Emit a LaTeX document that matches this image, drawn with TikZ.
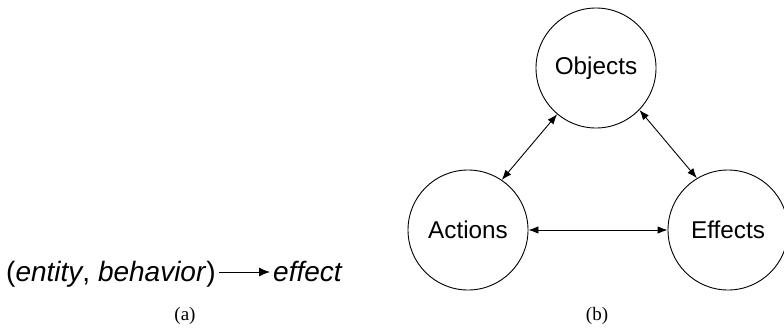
\documentclass[tikz,border=0pt]{standalone}
\usepackage{fontspec}
\setmainfont{Liberation Serif}
\setsansfont{Liberation Sans}
\usetikzlibrary{arrows.meta}
\begin{document}
\begin{tikzpicture}[x=1pt,y=-1pt,
  circ/.style={draw,circle,line width=0.9pt,minimum size=120pt,inner sep=0pt,font=\sffamily\fontsize{24.3}{28}\selectfont},
  conn/.style={line width=0.9pt,{Latex[length=10pt,width=7.5pt]}-{Latex[length=10pt,width=7.5pt]}},
  txt/.style={inner sep=0pt,anchor=base west,font=\sffamily\fontsize{28}{32}\selectfont},
  sublabel/.style={font=\fontsize{19}{22}\selectfont}]
\useasboundingbox (0,0) rectangle (784,330);
% (a)
\node[txt] (left) at (6,281) {(\textit{entity}, \textit{behavior})};
\node[txt] (right) at (273,281) {\textit{effect}};
\coordinate (as) at ([xshift=3pt]left.east|-0,272);
\coordinate (ae) at ([xshift=-3pt]right.west|-0,272);
\draw[line width=0.9pt,-{Latex[length=11pt,width=9pt]}] (as) -- (ae);
\node[sublabel] (la) at (185,316) {(a)};
% (b)
\node[circ] (obj) at (596,68) {Objects};
\node[circ] (act) at (468,230) {Actions};
\node[circ] (eff) at (728,230) {Effects};
\draw[conn] (obj.-130) -- (act.56);
\draw[conn] (obj.-44) -- (eff.121);
\draw[conn] (act) -- (eff);
\node[sublabel] (lb) at (597,316) {(b)};
\end{tikzpicture}
\end{document}
